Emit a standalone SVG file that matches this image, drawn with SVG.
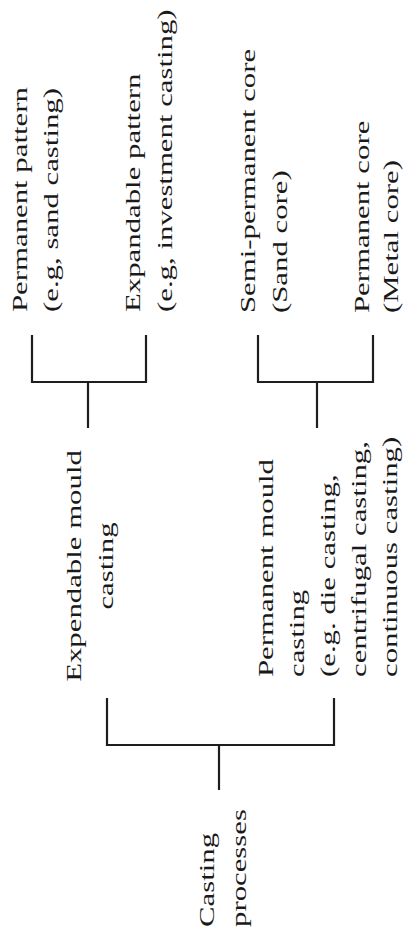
<svg xmlns="http://www.w3.org/2000/svg" width="404" height="936" viewBox="0 0 404 936">
<style>
text{font-family:"Liberation Serif","Times New Roman",serif;font-size:22px;fill:#1a1a1a}
.c{text-anchor:middle}
.ln{fill:none;stroke:#1e1e1e;stroke-width:2.2}
</style>
<rect width="404" height="936" fill="#fff"/>
<g id="connectors">
<path class="ln" d="M32,335 V382 H146 V335 M88,382 V428"/>
<path class="ln" d="M258,335 V382 H373 V335 M317,382 V428"/>
<path class="ln" d="M107,698 V745 H334 V698 M219,745 V790"/>
</g>
<g id="casting-processes" transform="translate(214,927) rotate(-90) scale(1.4,1)">
<text x="0" y="0">Casting</text>
<text x="0" y="32">processes</text>
</g>
<g id="expendable-mould" transform="translate(81,566) rotate(-90) scale(1.4,1)">
<text class="c" x="0" y="0">Expendable mould</text>
<text class="c" x="0" y="32">casting</text>
</g>
<g id="permanent-mould" transform="translate(273,677) rotate(-90) scale(1.4,1)">
<text x="0" y="0">Permanent mould</text>
<text x="0" y="31">casting</text>
<text x="0" y="62">(e.g. die casting,</text>
<text x="0" y="93">centrifugal casting,</text>
<text x="0" y="124">continuous casting)</text>
</g>
<g id="permanent-pattern" transform="translate(27,312) rotate(-90) scale(1.4,1)">
<text x="0" y="0">Permanent pattern</text>
<text x="0" y="31">(e.g, sand casting)</text>
</g>
<g id="expandable-pattern" transform="translate(140,312) rotate(-90) scale(1.4,1)">
<text x="0" y="0">Expandable pattern</text>
<text x="0" y="32">(e.g, investment casting)</text>
</g>
<g id="semi-permanent-core" transform="translate(255,313) rotate(-90) scale(1.4,1)">
<text x="0" y="0">Semi-permanent core</text>
<text x="0" y="32">(Sand core)</text>
</g>
<g id="permanent-core" transform="translate(369,313) rotate(-90) scale(1.4,1)">
<text x="0" y="0">Permanent core</text>
<text x="0" y="29">(Metal core)</text>
</g>
</svg>
